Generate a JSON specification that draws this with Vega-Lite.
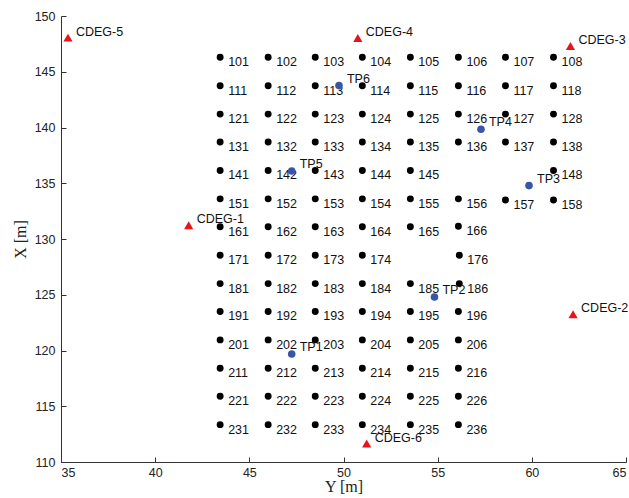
{
  "$schema": "https://vega.github.io/schema/vega-lite/v6.json",
  "autosize": "none",
  "width": 565,
  "height": 446,
  "padding": {"left": 61, "top": 16, "right": 3, "bottom": 36},
  "background": "white",
  "config": {"view": {"stroke": null}},
  "datasets": {
    "grid": [
      {"Y":43.45,"X":146.3,"L":"101"},{"Y":46.0,"X":146.3,"L":"102"},{"Y":48.5,"X":146.3,"L":"103"},{"Y":51.0,"X":146.3,"L":"104"},{"Y":53.55,"X":146.3,"L":"105"},{"Y":56.1,"X":146.3,"L":"106"},{"Y":58.6,"X":146.3,"L":"107"},{"Y":61.15,"X":146.3,"L":"108"},
      {"Y":43.45,"X":143.75,"L":"111"},{"Y":46.0,"X":143.75,"L":"112"},{"Y":48.5,"X":143.75,"L":"113"},{"Y":51.0,"X":143.75,"L":"114"},{"Y":53.55,"X":143.75,"L":"115"},{"Y":56.1,"X":143.75,"L":"116"},{"Y":58.6,"X":143.75,"L":"117"},{"Y":61.15,"X":143.75,"L":"118"},
      {"Y":43.45,"X":141.2,"L":"121"},{"Y":46.0,"X":141.2,"L":"122"},{"Y":48.5,"X":141.2,"L":"123"},{"Y":51.0,"X":141.2,"L":"124"},{"Y":53.55,"X":141.2,"L":"125"},{"Y":56.1,"X":141.2,"L":"126"},{"Y":58.6,"X":141.2,"L":"127"},{"Y":61.15,"X":141.2,"L":"128"},
      {"Y":43.45,"X":138.7,"L":"131"},{"Y":46.0,"X":138.7,"L":"132"},{"Y":48.5,"X":138.7,"L":"133"},{"Y":51.0,"X":138.7,"L":"134"},{"Y":53.55,"X":138.7,"L":"135"},{"Y":56.1,"X":138.7,"L":"136"},{"Y":58.6,"X":138.7,"L":"137"},{"Y":61.15,"X":138.7,"L":"138"},
      {"Y":43.45,"X":136.15,"L":"141"},{"Y":46.0,"X":136.15,"L":"142"},{"Y":48.5,"X":136.15,"L":"143"},{"Y":51.0,"X":136.15,"L":"144"},{"Y":53.55,"X":136.15,"L":"145"},{"Y":61.15,"X":136.15,"L":"148"},
      {"Y":43.45,"X":133.6,"L":"151"},{"Y":46.0,"X":133.6,"L":"152"},{"Y":48.5,"X":133.6,"L":"153"},{"Y":51.0,"X":133.6,"L":"154"},{"Y":53.55,"X":133.6,"L":"155"},{"Y":56.1,"X":133.6,"L":"156"},{"Y":58.6,"X":133.5,"L":"157"},{"Y":61.15,"X":133.5,"L":"158"},
      {"Y":43.45,"X":131.1,"L":"161"},{"Y":46.0,"X":131.1,"L":"162"},{"Y":48.5,"X":131.1,"L":"163"},{"Y":51.0,"X":131.1,"L":"164"},{"Y":53.55,"X":131.1,"L":"165"},{"Y":56.1,"X":131.15,"L":"166"},
      {"Y":43.45,"X":128.55,"L":"171"},{"Y":46.0,"X":128.55,"L":"172"},{"Y":48.5,"X":128.55,"L":"173"},{"Y":51.0,"X":128.55,"L":"174"},{"Y":56.15,"X":128.55,"L":"176"},
      {"Y":43.45,"X":126.0,"L":"181"},{"Y":46.0,"X":126.0,"L":"182"},{"Y":48.5,"X":126.0,"L":"183"},{"Y":51.0,"X":126.0,"L":"184"},{"Y":53.55,"X":126.0,"L":"185"},{"Y":56.15,"X":126.0,"L":"186"},
      {"Y":43.45,"X":123.5,"L":"191"},{"Y":46.0,"X":123.5,"L":"192"},{"Y":48.5,"X":123.5,"L":"193"},{"Y":51.0,"X":123.5,"L":"194"},{"Y":53.55,"X":123.5,"L":"195"},{"Y":56.1,"X":123.5,"L":"196"},
      {"Y":43.45,"X":120.95,"L":"201"},{"Y":46.0,"X":120.95,"L":"202"},{"Y":48.5,"X":120.95,"L":"203"},{"Y":51.0,"X":120.95,"L":"204"},{"Y":53.55,"X":120.95,"L":"205"},{"Y":56.1,"X":120.95,"L":"206"},
      {"Y":43.45,"X":118.4,"L":"211"},{"Y":46.0,"X":118.4,"L":"212"},{"Y":48.5,"X":118.4,"L":"213"},{"Y":51.0,"X":118.4,"L":"214"},{"Y":53.55,"X":118.4,"L":"215"},{"Y":56.1,"X":118.4,"L":"216"},
      {"Y":43.45,"X":115.9,"L":"221"},{"Y":46.0,"X":115.9,"L":"222"},{"Y":48.5,"X":115.9,"L":"223"},{"Y":51.0,"X":115.9,"L":"224"},{"Y":53.55,"X":115.9,"L":"225"},{"Y":56.1,"X":115.9,"L":"226"},
      {"Y":43.45,"X":113.35,"L":"231"},{"Y":46.0,"X":113.35,"L":"232"},{"Y":48.5,"X":113.35,"L":"233"},{"Y":51.0,"X":113.35,"L":"234"},{"Y":53.55,"X":113.35,"L":"235"},{"Y":56.1,"X":113.35,"L":"236"}
    ],
    "tp": [
      {"Y":47.25,"X":119.69,"L":"TP1"},
      {"Y":54.83,"X":124.8,"L":"TP2"},
      {"Y":59.85,"X":134.79,"L":"TP3"},
      {"Y":57.3,"X":139.84,"L":"TP4"},
      {"Y":47.25,"X":136.1,"L":"TP5"},
      {"Y":49.76,"X":143.76,"L":"TP6"}
    ],
    "cdeg": [
      {"Y":41.78,"X":131.23,"L":"CDEG-1"},
      {"Y":62.19,"X":123.25,"L":"CDEG-2"},
      {"Y":62.05,"X":147.31,"L":"CDEG-3"},
      {"Y":50.76,"X":148.03,"L":"CDEG-4"},
      {"Y":35.37,"X":148.06,"L":"CDEG-5"},
      {"Y":51.23,"X":111.65,"L":"CDEG-6"}
    ]
  },
  "encoding": {
    "x": {
      "field": "Y", "type": "quantitative",
      "scale": {"domain": [35, 65], "nice": false, "zero": false},
      "axis": {
        "title": "Y [m]", "values": [35,40,45,50,55,60,65], "grid": false,
        "domainColor": "#333333", "tickColor": "#333333", "tickSize": -5,
        "labelFont": "Liberation Sans", "labelFontSize": 12.5, "labelColor": "#222222", "labelPadding": 9,
        "titleFont": "Liberation Serif", "titleFontSize": 16, "titleFontWeight": "normal", "titleColor": "#222222", "titlePadding": 0
      }
    },
    "y": {
      "field": "X", "type": "quantitative",
      "scale": {"domain": [110, 150], "nice": false, "zero": false},
      "axis": {
        "title": "X [m]", "values": [110,115,120,125,130,135,140,145,150], "grid": false,
        "domainColor": "#333333", "tickColor": "#333333", "tickSize": -5,
        "labelFont": "Liberation Sans", "labelFontSize": 12.5, "labelColor": "#222222", "labelPadding": 11,
        "titleFont": "Liberation Serif", "titleFontSize": 16, "titleFontWeight": "normal", "titleColor": "#222222", "titlePadding": 6
      }
    }
  },
  "layer": [
    {"data": {"name": "grid"}, "mark": {"type": "point", "shape": "circle", "filled": true, "color": "#000000", "size": 48, "opacity": 1}},
    {"data": {"name": "grid"}, "mark": {"type": "text", "align": "left", "baseline": "middle", "dx": 8, "dy": 5, "font": "Liberation Sans", "fontSize": 12.5, "color": "#111111"}, "encoding": {"text": {"field": "L"}}},
    {"data": {"name": "tp"}, "mark": {"type": "point", "shape": "circle", "filled": true, "color": "#3a55a8", "size": 58, "opacity": 1}},
    {"data": {"name": "tp"}, "mark": {"type": "text", "align": "left", "baseline": "middle", "dx": 8, "dy": -7, "font": "Liberation Sans", "fontSize": 12.5, "color": "#111111"}, "encoding": {"text": {"field": "L"}}},
    {"data": {"name": "cdeg"}, "mark": {"type": "point", "shape": "triangle-up", "filled": true, "color": "#e8141b", "size": 85, "opacity": 1}},
    {"data": {"name": "cdeg"}, "mark": {"type": "text", "align": "left", "baseline": "middle", "dx": 8, "dy": -6, "font": "Liberation Sans", "fontSize": 12.5, "color": "#111111"}, "encoding": {"text": {"field": "L"}}}
  ]
}
